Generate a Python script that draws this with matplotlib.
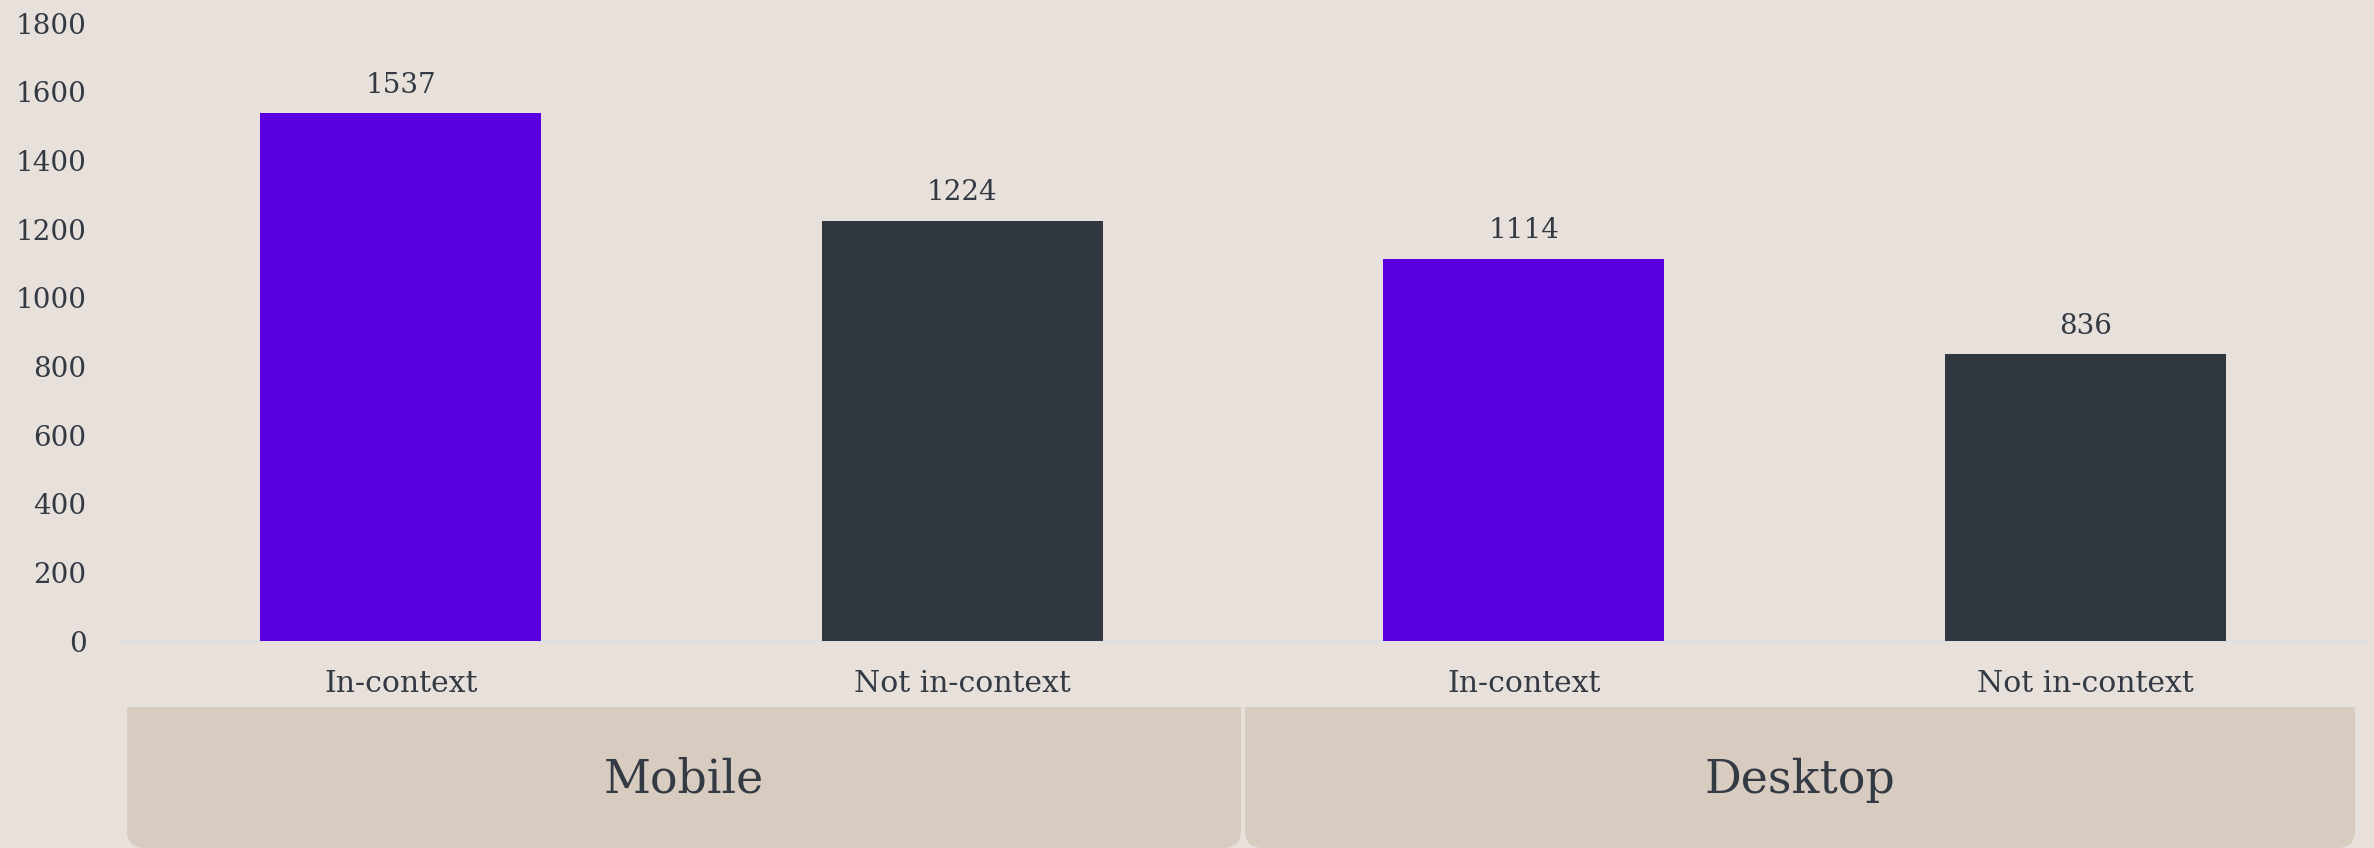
import matplotlib
matplotlib.use("Agg")
import matplotlib.pyplot as plt
from matplotlib.patches import FancyBboxPatch, Rectangle
import numpy as np

groups = ["Mobile", "Desktop"]
categories = ["In-context", "Not in-context", "In-context", "Not in-context"]
values = [1537, 1224, 1114, 836]
bar_colors = ["#5A00E0", "#30373F", "#5A00E0", "#30373F"]
yticks = [0, 200, 400, 600, 800, 1000, 1200, 1400, 1600, 1800]

BG = "#E8E1DB"
BAND = "#D8CBBF"
TXT = "#333A44"
FONT = ["DejaVu Serif"]

W, H, DPI = 2374, 848, 100
fig = plt.figure(figsize=(W / DPI, H / DPI), dpi=DPI, facecolor=BG)
ax = fig.add_axes([120 / W, 207 / H, (2366 - 120) / W, (641 - 23) / H])
ax.set_facecolor(BG)

x = np.arange(len(values))
ax.bar(x, values, width=0.5, color=bar_colors, zorder=3)
ax.set_xlim(-0.5, len(values) - 0.5)
ax.set_ylim(0, 1800)
ax.set_yticks(yticks)
ax.set_yticklabels([str(t) for t in yticks], fontsize=20, color=TXT, family=FONT)
ax.tick_params(axis="y", length=0, pad=24)
ax.set_xticks([])
for s in ["top", "right", "left"]:
    ax.spines[s].set_visible(False)
ax.spines["bottom"].set_color("#DDE0E2")
ax.spines["bottom"].set_linewidth(1.5)

for xi, v in zip(x, values):
    ax.annotate(str(v), (xi, v), xytext=(0, 20), textcoords="offset points",
                ha="center", va="center", fontsize=20, color=TXT, family=FONT)
    ax.annotate(categories[xi], (xi, 0), xytext=(0, -31), textcoords="offset points",
                ha="center", va="center", fontsize=21.5, color=TXT, family=FONT)

# group bands below the axis
fig.canvas.draw()
trans = ax.transData
n_per = len(values) // len(groups)
top_px = H - 707
for gi, g in enumerate(groups):
    x0 = trans.transform((gi * n_per - 0.5, 0))[0]
    x1 = trans.transform(((gi + 1) * n_per - 0.5, 0))[0]
    left = x0 + (7 if gi == 0 else 2)
    right = x1 - (2 if gi < len(groups) - 1 else 11)
    r = 18
    box = FancyBboxPatch((left / W, 0 / H), (right - left) / W, (top_px - 0) / H,
                         boxstyle=f"round,pad=0,rounding_size={r / W}",
                         transform=fig.transFigure, facecolor=BAND, edgecolor="none",
                         mutation_aspect=W / H)
    fig.patches.append(box)
    rect = Rectangle((left / W, (top_px - 40) / H), (right - left) / W, 40 / H,
                     transform=fig.transFigure, facecolor=BAND, edgecolor="none")
    fig.patches.append(rect)
    fig.text((left + right) / 2 / W, (H - 780) / H, g, ha="center", va="center",
             fontsize=33, color=TXT, family=FONT)

fig.savefig("out.png", dpi=DPI, facecolor=BG)
